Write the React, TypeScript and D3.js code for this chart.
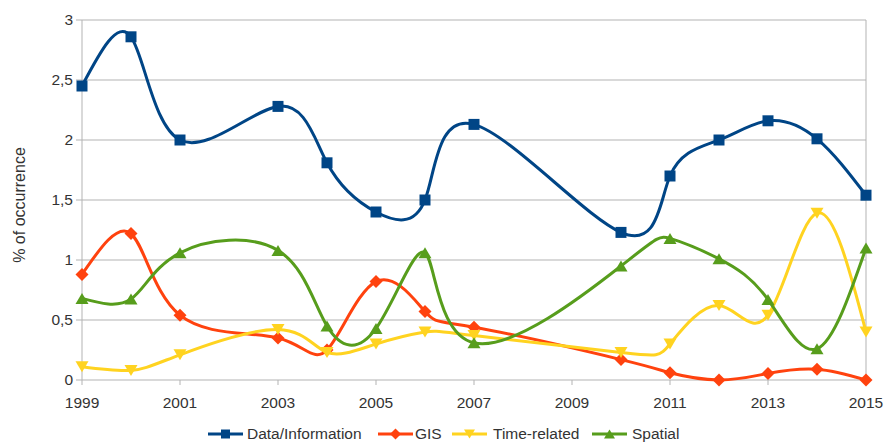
import { useMemo } from 'react';
import * as d3 from 'd3';

// years present in the source table (2002, 2008, 2009 missing)
const years = [1999, 2000, 2001, 2003, 2004, 2005, 2006, 2007, 2010, 2011, 2012, 2013, 2014, 2015];
const dataInfo = [2.45, 2.86, 2.0, 2.28, 1.81, 1.4, 1.5, 2.13, 1.23, 1.7, 2.0, 2.16, 2.01, 1.54];
const gis = [0.88, 1.22, 0.54, 0.35, 0.25, 0.82, 0.57, 0.44, 0.17, 0.06, 0.0, 0.055, 0.09, 0.0];
const timeRelated = [0.11, 0.08, 0.21, 0.42, 0.23, 0.3, 0.4, 0.37, 0.23, 0.3, 0.62, 0.54, 1.39, 0.4];
const spatial = [0.68, 0.675, 1.06, 1.08, 0.45, 0.43, 1.06, 0.31, 0.95, 1.18, 1.01, 0.67, 0.26, 1.1];

const xTicks = [1999, 2001, 2003, 2005, 2007, 2009, 2011, 2013, 2015];
const yTicks = [0, 0.5, 1, 1.5, 2, 2.5, 3];

type Marker = 'square' | 'diamond' | 'down' | 'up';

const series: { name: string; values: number[]; color: string; marker: Marker }[] = [
  { name: 'Data/Information', values: dataInfo, color: '#004586', marker: 'square' },
  { name: 'GIS', values: gis, color: '#ff420e', marker: 'diamond' },
  { name: 'Time-related', values: timeRelated, color: '#ffd320', marker: 'down' },
  { name: 'Spatial', values: spatial, color: '#579d1c', marker: 'up' },
];

const WIDTH = 884;
const HEIGHT = 443;
const margin = { top: 20, right: 18, bottom: 63, left: 82 };
const FONT = '"Liberation Sans", Arial, sans-serif';

function markerPath(kind: Marker, cx: number, cy: number, s: number) {
  const h = s / 2;
  switch (kind) {
    case 'square':
      return `M${cx - h},${cy - h}h${s}v${s}h${-s}Z`;
    case 'diamond':
      return `M${cx},${cy - h - 1}L${cx + h + 1},${cy}L${cx},${cy + h + 1}L${cx - h - 1},${cy}Z`;
    case 'down':
      return `M${cx - h - 1},${cy - h}L${cx + h + 1},${cy - h}L${cx},${cy + h}Z`;
    case 'up':
      return `M${cx - h - 1},${cy + h}L${cx + h + 1},${cy + h}L${cx},${cy - h}Z`;
  }
}

export default function App() {
  const w = WIDTH - margin.left - margin.right;
  const h = HEIGHT - margin.top - margin.bottom;

  const x = useMemo(() => d3.scaleLinear().domain([1999, 2015]).range([0, w]), [w]);
  const y = useMemo(() => d3.scaleLinear().domain([0, 3]).range([h, 0]), [h]);

  const line = d3
    .line<number>()
    .x((_, i) => x(years[i]))
    .y((d) => y(d))
    .curve(d3.curveNatural);

  // legend layout: [line start, text start]
  const legendItems = [
    { lx: 208, tx: 247 },
    { lx: 378, tx: 415 },
    { lx: 452, tx: 493 },
    { lx: 592, tx: 632 },
  ];
  const legendY = 434;

  return (
    <svg
      width={WIDTH}
      height={HEIGHT}
      style={{ position: 'absolute', left: 0, top: 0, background: '#fff' }}
      fontFamily={FONT}
    >
      <g transform={`translate(${margin.left},${margin.top})`}>
        {yTicks.map((t) => (
          <g key={t}>
            <line x1={-6} x2={w} y1={y(t)} y2={y(t)} stroke="#b3b3b3" strokeWidth={1} />
            <text x={-9} y={y(t)} dy="0.35em" textAnchor="end" fontSize={15.5} fill="#333">
              {String(t).replace('.', ',')}
            </text>
          </g>
        ))}
        <line x1={0} x2={0} y1={0} y2={h} stroke="#b3b3b3" />
        <line x1={w} x2={w} y1={0} y2={h} stroke="#b3b3b3" />
        {xTicks.map((t) => (
          <g key={t}>
            <line x1={x(t)} x2={x(t)} y1={h} y2={h + 5} stroke="#b3b3b3" />
            <text x={x(t)} y={h + 28} textAnchor="middle" fontSize={15.5} fill="#333">
              {t}
            </text>
          </g>
        ))}
        {series.map((s) => (
          <g key={s.name}>
            <path d={line(s.values) ?? ''} fill="none" stroke={s.color} strokeWidth={3} />
            {s.values.map((v, i) => (
              <path key={i} d={markerPath(s.marker, x(years[i]), y(v), 11)} fill={s.color} />
            ))}
          </g>
        ))}
      </g>
      <text
        transform={`translate(25,205) rotate(-90)`}
        textAnchor="middle"
        fontSize={16}
        fill="#333"
      >
        % of occurrence
      </text>
      {series.map((s, i) => (
        <g key={s.name}>
          <line
            x1={legendItems[i].lx}
            x2={legendItems[i].lx + 35}
            y1={legendY}
            y2={legendY}
            stroke={s.color}
            strokeWidth={3}
          />
          <path d={markerPath(s.marker, legendItems[i].lx + 17.5, legendY, 9)} fill={s.color} />
          <text x={legendItems[i].tx} y={legendY} dy="0.35em" fontSize={15.5} fill="#333">
            {s.name}
          </text>
        </g>
      ))}
    </svg>
  );
}
